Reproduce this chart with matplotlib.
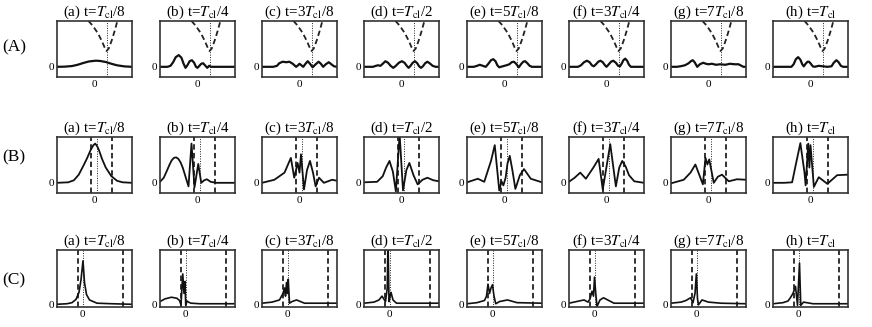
import matplotlib.pyplot as plt

plt.rcParams['font.family'] = ['Liberation Serif', 'DejaVu Serif']
plt.rcParams['mathtext.fontset'] = 'stix'

titles = [r'(a) t=$T_{\rm cl}$/8', r'(b) t=$T_{\rm cl}$/4', r'(c) t=3$T_{\rm cl}$/8',
          r'(d) t=$T_{\rm cl}$/2', r'(e) t=5$T_{\rm cl}$/8', r'(f) t=3$T_{\rm cl}$/4',
          r'(g) t=7$T_{\rm cl}$/8', r'(h) t=$T_{\rm cl}$']
row_names = ['(A)', '(B)', '(C)']

# row A: wave packets + potential (dashed) + its minimum (dotted)
pot_x = [-1.6, -0.5, 0.9, 2.0, 2.7, 3.2, 3.8, 4.6, 5.4, 6.1]
pot_y = [0.9, 0.81, 0.66, 0.5, 0.38, 0.31, 0.36, 0.52, 0.71, 0.9]
pot_min = 3.2

A_x = [
    [-10, -8, -6, -4.5, -3, -1.5, 0, 0.5, 1.5, 3, 4.5, 6, 8, 10],
    [-10, -8, -7.2, -6.5, -5.8, -5, -4.3, -3.7, -3.2, -2.7, -2.1, -1.5, -0.9, -0.4, 0, 0.5, 1,
     1.5, 2.0, 2.6, 3.1, 3.6, 4.5, 10],
    [-10, -7, -6, -5.4, -4.5, -3.5, -2.7, -1.8, -0.9, -0.4, 0, 0.5, 1, 1.6, 2.2, 2.8, 3.5, 4.3,
     5.1, 5.7, 6.3, 7, 7.8, 8.5, 9.2, 10],
    [-10, -7.6, -6.8, -6.3, -5.6, -5.0, -4.3, -3.6, -2.9, -2.2, -1.5, -0.7, 0.1, 0.8, 1.4, 1.9,
     2.4, 3.0, 3.6, 4.2, 4.7, 5.2, 5.7, 6.3, 6.9, 7.5, 8.3, 9.1, 10],
    [-10, -8.2, -7.3, -6.6, -5.8, -5, -4.3, -3.6, -3, -2.4, -1.9, -1.4, -0.5, 0.5, 1.3, 1.9, 2.5,
     3.1, 3.8, 4.5, 5, 5.5, 6.1, 6.7, 7.3, 8.2, 10],
    [-10, -7.6, -6.8, -6.0, -5.2, -4.5, -3.9, -3.4, -2.8, -2.2, -1.6, -1.0, -0.4, 0, 0.5, 1.2,
     1.8, 2.5, 3.1, 3.6, 4.1, 4.5, 5, 5.5, 6, 6.5, 7.5, 10],
    [-10, -8.5, -7.5, -6.3, -5.3, -4.7, -4.2, -3.7, -3.0, -2.3, -1.4, -0.7, 0, 0.9, 2, 3.1, 4.5,
     5.7, 7, 8, 8.8, 9.3, 10],
    [-10, -5.1, -4.5, -3.9, -3.3, -2.7, -2.2, -1.8, -1.3, -0.8, -0.4, 0.1, 0.6, 1.1, 2.2, 3.3,
     4.5, 5.6, 6.2, 6.9, 7.5, 8.1, 8.7, 10],
]
A_y = [
    [0, 0.003, 0.015, 0.04, 0.075, 0.105, 0.118, 0.12, 0.115, 0.095, 0.06, 0.03, 0.008, 0],
    [0, 0, 0.02, 0.09, 0.19, 0.23, 0.18, 0.06, -0.02, 0.03, 0.11, 0.13, 0.08, 0.0, -0.02, 0.02,
     0.06, 0.07, 0.03, -0.02, 0.02, 0, 0, 0],
    [0, 0, 0.02, 0.07, 0.1, 0.09, 0.1, 0.06, 0, 0.03, 0.06, 0.03, 0, 0.06, 0.11, 0.06, -0.01,
     0.05, 0.1, 0.06, 0, 0.05, 0.09, 0.05, 0.01, 0],
    [0, 0, 0.02, 0.03, 0.02, 0.06, 0.11, 0.08, 0.02, -0.02, 0.02, 0.08, 0.11, 0.08, 0.02, -0.02,
     0.02, 0.08, 0.11, 0.07, 0.01, -0.02, 0.01, 0.07, 0.1, 0.07, 0.02, 0, 0],
    [0, 0, 0.02, 0.04, 0.02, 0, 0.06, 0.13, 0.15, 0.11, 0.03, -0.01, 0.01, 0.03, 0.05, 0.09, 0.1,
     0.06, -0.01, 0.06, 0.1, 0.11, 0.07, 0.02, 0, 0, 0],
    [0, 0, 0.03, 0.09, 0.12, 0.09, 0.03, 0.01, 0.05, 0.1, 0.12, 0.09, 0.03, 0, 0.04, 0.1, 0.12,
     0.08, 0.02, 0.01, 0.07, 0.13, 0.16, 0.12, 0.04, 0, 0, 0],
    [0, 0, 0.01, 0.03, 0.07, 0.11, 0.13, 0.09, 0, 0.05, 0.08, 0.06, 0.05, 0.06, 0.04, 0.05, 0.04,
     0.06, 0.05, 0.05, 0.02, 0, 0],
    [0, 0, 0.05, 0.15, 0.19, 0.14, 0.05, 0.01, 0.06, 0.1, 0.1, 0.06, 0.01, 0, 0.02, 0.01, 0,
     0.01, 0.08, 0.13, 0.09, 0.02, 0, 0],
]

# row B
B_lines = [-0.9, 4.7]
B_dot = 0.6
B_x = [
    [-10, -7, -5.5, -4.2, -3, -2, -1, -0.3, 0.2, 0.7, 1.2, 2, 3, 4.5, 6, 7.5, 10],
    [-10, -9, -8.2, -7.5, -6.9, -6.3, -5.7, -5.1, -4.5, -3.9, -3.4, -2.9, -2.4, -1.6, -0.8, 0.2,
     1, 1.8, 2.5, 3.5, 5, 10],
    [-10, -6.7, -4, -2.3, -1.4, -0.5, 0, 0.4, 1.2, 2.0, 2.8, 3.6, 4.3, 5.2, 6.5, 8.7, 10],
    [-10, -6.5, -5, -4.1, -3.2, -2.3, -1.5, -0.5, 0.4, 1.3, 2.1, 3.2, 4.3, 5.6, 6.9, 8.5, 10],
    [-10, -7.1, -5.4, -3.6, -2.6, -1.4, -0.8, -0.3, 0.3, 0.8, 1.4, 2.1, 2.9, 4.1, 5.2, 7, 10],
    [-10, -8.5, -7, -5.5, -3.5, -2.1, -1, 1, 2.5, 3.4, 4.2, 5.1, 6, 7.4, 10],
    [-10, -6.6, -4.8, -3.5, -1.5, -0.8, -0.3, 0.2, 1.4, 2.5, 3.6, 5.4, 7.6, 10],
    [-10, -7, -4.9, -3.8, -2.7, -1.6, -1.3, -0.6, -0.3, 0, 0.9, 2.2, 4.5, 7.1, 10],
]
B_y = [
    [0, 0.01, 0.05, 0.16, 0.33, 0.48, 0.65, 0.74, 0.77, 0.72, 0.64, 0.47, 0.3, 0.13, 0.04,
     0.01, 0],
    [0.02, 0.1, 0.23, 0.35, 0.44, 0.49, 0.5, 0.47, 0.4, 0.29, 0.17, 0.05, -0.07, 0.77, -0.09,
     0.37, 0, 0.05, 0.07, 0.02, 0, 0],
    [0, 0.06, 0.2, 0.49, 0.1, 0.39, 0.2, 0.56, -0.13, 0.25, 0.43, 0.2, -0.07, 0.1, 0, 0.06, 0.04],
    [0.01, 0.02, 0.13, 0.3, 0.43, 0.22, -0.17, 0.95, -0.15, 0.25, 0.39, 0.15, -0.03, 0.06, 0.1,
     0.05, 0.03],
    [0.01, 0.08, 0.02, 0.43, 0.74, -0.15, 0.03, -0.05, 0.1, 0.38, 0.53, 0.25, -0.12, 0.15, 0.27,
     0.08, 0.01],
    [0.02, 0.1, 0.2, 0.08, 0.3, 0.47, -0.13, 0.76, -0.07, 0.3, 0.43, 0.32, 0.15, 0.03, 0],
    [-0.01, 0.06, 0.2, 0.36, -0.03, 0.49, 0.36, 0.46, 0, 0.12, 0.16, 0.03, 0.07, 0.06],
    [0, 0, 0.01, 0.4, 0.78, 0.2, -0.05, 0.77, 0.3, 0.74, -0.08, 0.11, -0.02, 0.15, 0.16],
]

# row C
C_lines = [-0.9, 8.2]
C_dot = 0.2
C_x = [
    [-5, -3, -2, -1.2, -0.6, -0.2, 0.2, 0.5, 0.9, 1.5, 3, 6, 10],
    [-5, -4, -2.7, -1.6, -1.1, -0.8, -0.45, -0.2, 0, 0.15, 0.4, 0.7, 1.2, 3, 10],
    [-5, -3, -1.5, -0.8, -0.5, -0.3, -0.1, 0.1, 0.25, 0.5, 1, 1.9, 3.5, 10],
    [-5, -3, -2, -1.4, -0.7, -0.35, -0.2, 0, 0.15, 0.4, 0.8, 1.5, 10],
    [-5, -3, -1.5, -1.1, -0.8, -0.5, -0.2, 0.1, 0.4, 0.75, 1.5, 3.1, 5, 10],
    [-5, -3, -2, -1.2, -0.8, -0.4, -0.1, 0.1, 0.35, 0.6, 1.2, 1.9, 4, 10],
    [-5, -3, -2, -1.1, -0.6, -0.2, 0.07, 0.3, 0.5, 1.2, 2.5, 5, 10],
    [-5, -3, -2, -1.6, -1, -0.5, -0.1, 0.3, 0.55, 1.1, 3, 10],
]
C_y = [
    [0, 0.01, 0.03, 0.09, 0.22, 0.45, 0.8, 0.4, 0.18, 0.08, 0.02, 0.01, 0],
    [0.05, 0.1, 0.13, 0.11, 0.07, -0.01, 0.56, 0.2, 0.42, -0.02, 0.06, 0.04, 0.02, 0.01, 0.01],
    [0.02, 0.04, 0.08, 0.2, 0.3, 0.15, 0.4, 0.2, 0.46, 0.02, 0.05, 0.08, 0.02, 0.02],
    [0.02, 0.04, 0.08, 0.15, 0.05, 0.3, 1.2, 0.05, 0.12, 0.22, 0.08, 0.02, 0.02],
    [0.01, 0.03, 0.07, 0.15, 0.37, 0.2, 0.3, 0.36, 0.15, 0.01, 0.05, 0.08, 0.03, 0.02],
    [0.02, 0.06, 0.08, 0.04, 0.1, 0.24, 0.15, 0.5, 0.2, -0.04, 0.08, 0.12, 0.02, 0.02],
    [0.02, 0.04, 0.07, 0.12, 0.03, 0.2, 0.56, 0.1, -0.01, 0.08, 0.04, 0.02, 0.01],
    [0.01, 0.03, 0.06, 0.11, 0.2, 0.33, -0.02, 0.76, -0.02, 0.04, 0.01, 0.01],
]

W, H = 872.0, 327.0
lefts = [57, 160, 262, 364, 467, 569, 671, 773]
rows_px = [(21, 77), (137, 193), (250, 307)]
label_y = [47, 157, 280]

fig = plt.figure(figsize=(8.72, 3.27), dpi=100)

dash = (0, (3, 1.8))
dot = (0, (1, 1.5))

for r in range(3):
    top, bot = rows_px[r]
    fig.text(14 / W, 1 - label_y[r] / H, row_names[r], fontsize=12.5, ha='center', va='center')
    for c in range(8):
        ax = fig.add_axes([lefts[c] / W, 1 - bot / H, 75 / W, (bot - top) / H])
        if r == 0:
            ax.plot(pot_x, pot_y, color='#222222', lw=1.3, linestyle=dash)
            ax.axvline(pot_min, color='#222222', lw=0.7, linestyle=dot)
            ax.plot(A_x[c], A_y[c], color='#111111', lw=1.6)
            ax.set_xlim(-10, 10)
            ax.set_ylim(-0.2, 0.9)
        elif r == 1:
            for xv in B_lines:
                ax.axvline(xv, color='#222222', lw=1.3, linestyle=dash)
            ax.axvline(B_dot, color='#222222', lw=0.7, linestyle=dot)
            ax.plot(B_x[c], B_y[c], color='#111111', lw=1.3)
            ax.set_xlim(-10, 10)
            ax.set_ylim(-0.2, 0.9)
        else:
            for xv in C_lines:
                ax.axvline(xv, color='#222222', lw=1.3, linestyle=dash)
            ax.axvline(C_dot, color='#222222', lw=0.7, linestyle=dot)
            ax.plot(C_x[c], C_y[c], color='#111111', lw=1.2)
            ax.set_xlim(-5, 10)
            ax.set_ylim(-0.05, 1.0)
        ax.set_xticks([0])
        ax.set_yticks([0])
        ax.tick_params(length=0, labelsize=8, pad=2)
        for s in ax.spines.values():
            s.set_linewidth(1.2)
            s.set_color('#333333')
        ax.set_title(titles[c], fontsize=10.8, pad=1.5)

fig.savefig('out.png', dpi=100)
